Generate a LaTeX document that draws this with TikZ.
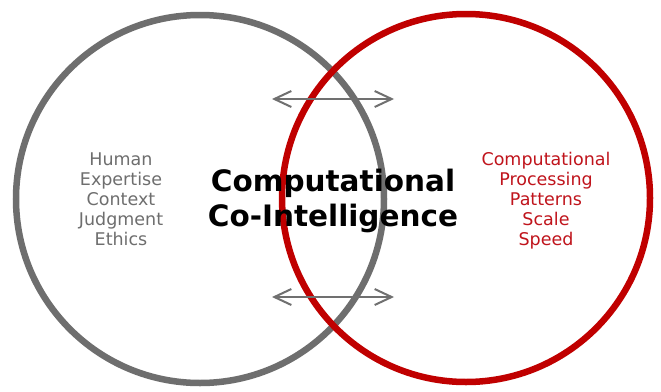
\documentclass[tikz,border=0pt]{standalone}
\usepackage{fontspec}
\setmainfont{DejaVu Sans}
\usetikzlibrary{arrows.meta}
\definecolor{humangray}{HTML}{6E6E6E}
\definecolor{machred}{HTML}{C00000}
\definecolor{machtext}{HTML}{C0141C}
\definecolor{arrowgray}{HTML}{707070}
\tikzset{
  ring/.style={line width=6.5pt},
  traits/.style={align=center, font=\fontsize{17.5}{20}\selectfont, inner sep=0pt},
  headline/.style={align=center, font=\fontsize{29.5}{35}\selectfont\bfseries, inner sep=0pt},
  exchange/.style={arrowgray, line width=2pt,
    {Straight Barb[length=17pt,width=16pt]}-{Straight Barb[length=17pt,width=16pt]}}
}
\begin{document}
\begin{tikzpicture}[x=1pt,y=-1pt]
  \useasboundingbox (0,0) rectangle (661,391);
  \fill[white] (0,0) rectangle (661,391);

  % two overlapping circles
  \draw[ring, humangray] (200,199) circle[radius=184];
  \draw[ring, machred] (466,198) circle[radius=184];

  % two-way exchange arrows
  \coordinate (tl) at (272,99);
  \coordinate (tr) at (394,99);
  \coordinate (bl) at (272,297);
  \coordinate (br) at (394,297);
  \draw[exchange] (tl) -- (tr);
  \draw[exchange] (bl) -- (br);

  % labels
  \node[traits, text=humangray] (human) at (121,199)
    {Human\\Expertise\\Context\\Judgment\\Ethics};
  \node[traits, text=machtext] (machine) at (546,201)
    {Computational\\Processing\\Patterns\\Scale\\Speed};
  \node[headline] (core) at (333,201)
    {Computational\\Co-Intelligence};
\end{tikzpicture}
\end{document}
